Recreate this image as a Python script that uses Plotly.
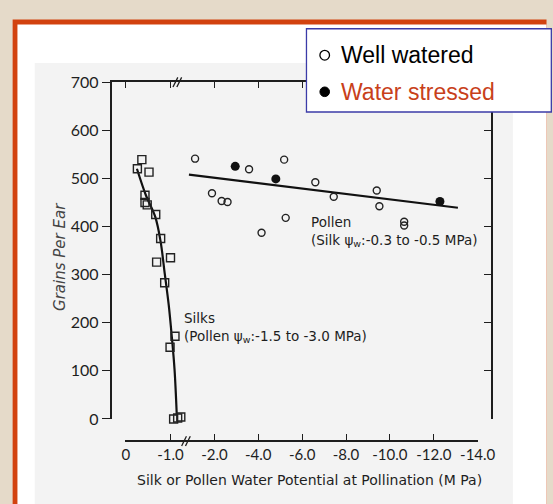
import plotly.graph_objects as go

# ---------------- data ----------------
# Silks: silk water potential magnitude (MPa, plotted as negative) vs grains per ear
SILK_MPA = [0.36, 0.26, 0.52, 0.43, 0.43, 0.48, 0.67, 0.78, 0.69, 1.00, 0.87, 1.10, 0.99, 1.07, 1.23, 1.16]
SILK_GRAINS = [539, 520, 513, 465, 450, 445, 425, 375, 326, 335, 283, 172, 149, 0, 4, 2]
SILK_FIT_MPA = [0.25, 0.45, 0.66, 0.78, 0.87, 0.96, 1.03, 1.09, 1.14]
SILK_FIT_GRAINS = [520, 465, 420, 368, 303, 237, 170, 103, 8]

# Pollen: pollen water potential magnitude (MPa) vs grains per ear
POLLEN_WW_MPA = [1.12, 1.89, 2.33, 2.60, 3.58, 5.18, 5.25, 4.15, 6.60, 7.44, 9.40, 9.52, 10.65, 10.65]
POLLEN_WW_GRAINS = [541, 469, 453, 451, 519, 539, 418, 387, 492, 462, 475, 442, 410, 402]
POLLEN_WS_MPA = [2.95, 4.80, 12.28]
POLLEN_WS_GRAINS = [525, 499, 452]
POLLEN_FIT_MPA = [0.84, 13.10]
POLLEN_FIT_GRAINS = [508, 439]

X_TICK_MPA_SILK = [0.0, 1.0]
X_TICK_MPA_POLLEN = [2.0, 4.0, 6.0, 8.0, 10.0, 12.0, 14.0]
X_TICK_TEXT = ["0", "-1.0", "-2.0", "-4.0", "-6.0", "-8.0", "-10.0", "-12.0", "-14.0"]
Y_TICKS = [0, 100, 200, 300, 400, 500, 600, 700]

# ---------------- broken-axis transforms ----------------
def silk_scale(vals):      # segment 0 .. -1.0 (expanded scale)
    return [2.04 * (a - 1.0) for a in vals]

def pollen_scale(vals):    # segment -2.0 .. -14.0
    return list(vals)

W, H = 553, 504
def X(p):
    return p / W
def Y(p):
    return 1 - p / H

PX0, PXS = 173.4, 22.85          # pixel of v=0 and px per unit
def v_at(px):
    return (px - PX0) / PXS

FONT = "DejaVu Sans"
TICKFONT = "Lato"
INK = "#1e1e1e"

fig = go.Figure()

fig.add_trace(go.Scatter(x=silk_scale(SILK_FIT_MPA), y=SILK_FIT_GRAINS, mode="lines",
                         line=dict(color="#111", width=2.2, shape="spline"),
                         cliponaxis=False, showlegend=False, hoverinfo="skip"))
fig.add_trace(go.Scatter(x=silk_scale(SILK_MPA), y=SILK_GRAINS, mode="markers",
                         marker=dict(symbol="square-open", size=8, color="#222",
                                     line=dict(width=1.4)),
                         cliponaxis=False, name="Silks", showlegend=False))
fig.add_trace(go.Scatter(x=pollen_scale(POLLEN_FIT_MPA), y=POLLEN_FIT_GRAINS, mode="lines",
                         line=dict(color="#111", width=2.2),
                         cliponaxis=False, showlegend=False, hoverinfo="skip"))
fig.add_trace(go.Scatter(x=pollen_scale(POLLEN_WW_MPA), y=POLLEN_WW_GRAINS, mode="markers",
                         marker=dict(symbol="circle-open", size=7, color="#222",
                                     line=dict(width=1.4)),
                         cliponaxis=False, name="Well watered", showlegend=False))
fig.add_trace(go.Scatter(x=pollen_scale(POLLEN_WS_MPA), y=POLLEN_WS_GRAINS, mode="markers",
                         marker=dict(symbol="circle", size=9, color="#111"),
                         cliponaxis=False, name="Water stressed", showlegend=False))
# dummy traces to activate the extra axes
fig.add_trace(go.Scatter(x=[None], y=[None], xaxis="x", yaxis="y2",
                         showlegend=False, hoverinfo="skip"))
fig.add_trace(go.Scatter(x=[None], y=[None], xaxis="x2", yaxis="y",
                         showlegend=False, hoverinfo="skip"))

xtickvals = silk_scale(X_TICK_MPA_SILK) + pollen_scale(X_TICK_MPA_POLLEN)

shapes = [
    # page background pieces
    dict(type="rect", xref="paper", yref="paper", x0=X(9), x1=X(565), y0=Y(10), y1=Y(515),
         fillcolor="#d2420f", line=dict(width=0), layer="below"),
    dict(type="rect", xref="paper", yref="paper", x0=X(14), x1=X(565), y0=Y(15), y1=Y(515),
         fillcolor="#ffffff", line=dict(width=0), layer="below"),
    dict(type="rect", xref="paper", yref="paper", x0=X(32), x1=X(530), y0=Y(55), y1=Y(515),
         fillcolor="#f3f3f3", line=dict(width=0), layer="below"),
    # axis breaks
    dict(type="line", xref="paper", yref="paper", x0=X(176), y0=Y(80), x1=X(181), y1=Y(70),
         line=dict(color=INK, width=1.3)),
    dict(type="line", xref="paper", yref="paper", x0=X(180), y0=Y(80), x1=X(185), y1=Y(70),
         line=dict(color=INK, width=1.3)),
    dict(type="line", xref="paper", yref="paper", x0=X(185), y0=Y(453), x1=X(190), y1=Y(443),
         line=dict(color=INK, width=1.3)),
    dict(type="line", xref="paper", yref="paper", x0=X(189), y0=Y(453), x1=X(194), y1=Y(443),
         line=dict(color=INK, width=1.3)),
    # legend box
    dict(type="rect", xref="paper", yref="paper", x0=X(315), x1=X(570), y0=Y(19.5), y1=Y(106),
         fillcolor="#ffffff", line=dict(color="#3b3ba8", width=1.3), layer="above"),
    dict(type="circle", xref="paper", yref="paper", x0=X(329), x1=X(339), y0=Y(42), y1=Y(52),
         fillcolor="#ffffff", line=dict(color="#000", width=1.3), layer="above"),
    dict(type="circle", xref="paper", yref="paper", x0=X(329), x1=X(339), y0=Y(80), y1=Y(90),
         fillcolor="#000000", line=dict(color="#000", width=1), layer="above"),
]

annotations = [
    dict(text="Well watered", x=X(349), y=Y(47), xref="paper", yref="paper",
         xanchor="left", yanchor="middle", showarrow=False,
         font=dict(family="Liberation Sans, Arial", size=23, color="#000")),
    dict(text="Water stressed", x=X(349), y=Y(85), xref="paper", yref="paper",
         xanchor="left", yanchor="middle", showarrow=False,
         font=dict(family="Liberation Sans, Arial", size=23, color="#c8401a")),
    dict(text="Pollen<br>(Silk ψ<sub>w</sub>:-0.3 to -0.5 MPa)", x=X(318), y=Y(230),
         xref="paper", yref="paper", xanchor="left", yanchor="middle", align="left",
         showarrow=False, font=dict(family=FONT, size=13.5, color=INK)),
    dict(text="Silks<br>(Pollen ψ<sub>w</sub>:-1.5 to -3.0 MPa)", x=X(185), y=Y(330),
         xref="paper", yref="paper", xanchor="left", yanchor="middle", align="left",
         showarrow=False, font=dict(family=FONT, size=13.5, color=INK)),
    dict(text="<i>Grains Per Ear</i>", x=X(59), y=Y(257), xref="paper", yref="paper",
         xanchor="center", yanchor="middle", textangle=-90, showarrow=False,
         font=dict(family=FONT, size=15, color="#444")),
    dict(text="Silk or Pollen Water Potential at Pollination (M Pa)", x=X(318), y=Y(488),
         xref="paper", yref="paper", xanchor="center", yanchor="middle", showarrow=False,
         font=dict(family=FONT, size=14, color=INK)),
]

fig.update_layout(
    width=W, height=H,
    margin=dict(l=0, r=0, t=0, b=0),
    paper_bgcolor="#e5dac9",
    plot_bgcolor="rgba(0,0,0,0)",
    showlegend=False,
    shapes=shapes,
    annotations=annotations,
    xaxis=dict(domain=[X(112), X(507)], range=[v_at(112), v_at(507)], side="top", anchor="y",
               showline=True, linecolor=INK, linewidth=1.5, ticks="inside", ticklen=6,
               tickwidth=1.3, tickcolor=INK, tickvals=xtickvals, showticklabels=False,
               showgrid=False, zeroline=False, fixedrange=True),
    xaxis2=dict(domain=[X(126), X(493.5)], range=[v_at(126), v_at(493.5)], anchor="free",
                position=Y(448), side="bottom", showline=True, linecolor=INK, linewidth=1.5,
                ticks="inside", ticklen=6, tickwidth=1.3, tickcolor=INK,
                tickvals=xtickvals, ticktext=X_TICK_TEXT,
                tickfont=dict(family=TICKFONT, size=15, color=INK),
                showgrid=False, zeroline=False, fixedrange=True),
    yaxis=dict(domain=[Y(425), Y(75)], range=[0, 700], anchor="x",
               showline=True, linecolor=INK, linewidth=1.5, ticks="outside", ticklen=8,
               tickwidth=1.3, tickcolor=INK, tickvals=Y_TICKS,
               tickfont=dict(family=TICKFONT, size=16, color=INK),
               showgrid=False, zeroline=False, fixedrange=True),
    yaxis2=dict(overlaying="y", side="right", anchor="x", range=[0, 700],
                showline=True, linecolor=INK, linewidth=1.5, ticks="inside", ticklen=7,
                tickwidth=1.3, tickcolor=INK, tickvals=Y_TICKS, showticklabels=False,
                showgrid=False, zeroline=False, fixedrange=True),
)

fig.write_html("out.html")
